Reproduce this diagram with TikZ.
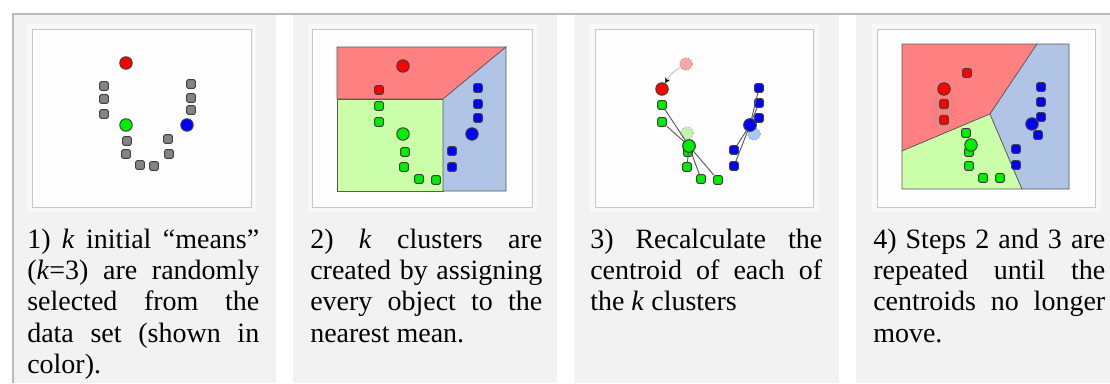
\documentclass[tikz,border=0pt]{standalone}
\usepackage{fontspec}
\setmainfont{Liberation Serif}
\usetikzlibrary{arrows.meta}
\definecolor{panelbg}{HTML}{F2F2F2}
\definecolor{framebg}{HTML}{F8F8F8}
\definecolor{boxbg}{HTML}{FDFDFD}
\definecolor{boxline}{HTML}{C8C8C8}
\definecolor{outline}{HTML}{BBBBBB}
\definecolor{regred}{HTML}{FF8080}
\definecolor{reggreen}{HTML}{CCFFAA}
\definecolor{regblue}{HTML}{B0C4E6}
\definecolor{ptred}{HTML}{FF0000}
\definecolor{ptgreen}{HTML}{00EE00}
\definecolor{ptblue}{HTML}{0000FF}
\definecolor{ptgray}{HTML}{848484}
\definecolor{fadered}{HTML}{F6A8A8}
\definecolor{fadegreen}{HTML}{C6F0B0}
\definecolor{fadeblue}{HTML}{A8C8F4}
\newcommand\jline[1]{\hbox to 174pt{#1}}
\newcommand\lline[1]{\hbox{#1}}
\tikzset{
  sq/.style={draw=black!75, fill=#1, rounded corners=1.2pt, minimum size=6.6pt, inner sep=0pt, line width=0.7pt},
  ct/.style={draw=black!75, fill=#1, circle, minimum size=9.4pt, inner sep=0pt, line width=0.7pt},
  fade/.style={draw=#1!70!black, fill=#1, circle, dotted, minimum size=9.4pt, inner sep=0pt, line width=0.6pt},
  region/.style={fill=#1, draw=black!65, line width=0.5pt},
  link/.style={draw=black!65, line width=0.7pt},
  caption/.style={anchor=base west, inner sep=0pt, font=\fontsize{21pt}{23.6pt}\selectfont},
  panel/.style={fill=panelbg},
  frame/.style={fill=framebg},
  imgbox/.style={fill=boxbg, draw=boxline, line width=0.75pt}
}
\begin{document}
\begin{tikzpicture}[x=0.75pt,y=-0.75pt]
\useasboundingbox (0,0) rectangle (1110,383);
\fill[white] (0,0) rectangle (1110,383);
% panels
\fill[panel] (14,15) rectangle (276,383);
\fill[panel] (293,15) rectangle (557,383);
\fill[panel] (574,15) rectangle (839,383);
\fill[panel] (856,15) rectangle (1110,383);
\draw[outline, line width=1.5pt] (13,383) -- (13,14) -- (1110,14);
% frames and boxes
\foreach \fx/\bx/\bw in {27/32/219, 308/312/220, 590/595/218, 872/877/218}{
  \fill[frame] (\fx,24) rectangle ++(229,188);
  \draw[imgbox] (\bx,29) rectangle ++(\bw,178);
}
% ---------- panel 1 ----------
\node[ct=ptred] (a1r) at (126,63) {};
\node[sq=ptgray] (a1) at (104,86) {};
\node[sq=ptgray] (a2) at (104,99) {};
\node[sq=ptgray] (a3) at (104,114) {};
\node[sq=ptgray] (a4) at (191,84) {};
\node[sq=ptgray] (a5) at (191,98) {};
\node[sq=ptgray] (a6) at (191,110) {};
\node[ct=ptgreen] (a1g) at (126,125) {};
\node[ct=ptblue] (a1b) at (187,125) {};
\node[sq=ptgray] (a7) at (127,141) {};
\node[sq=ptgray] (a8) at (126,154) {};
\node[sq=ptgray] (a9) at (140,165) {};
\node[sq=ptgray] (a10) at (154,166) {};
\node[sq=ptgray] (a11) at (168,139) {};
\node[sq=ptgray] (a12) at (169,154) {};
% ---------- panel 2 ----------
\path[region=regred] (337,47) -- (506,47) -- (443,99) -- (337,99) -- cycle;
\path[region=reggreen] (337,99) -- (443,99) -- (443,191) -- (337,191) -- cycle;
\path[region=regblue] (506,47) -- (506,191) -- (443,191) -- (443,99) -- cycle;
\node[ct=ptred] (b1r) at (403,66) {};
\node[sq=ptred] (b1) at (379,90) {};
\node[sq=ptgreen] (b2) at (379,106) {};
\node[sq=ptgreen] (b3) at (379,122) {};
\node[ct=ptgreen] (b1g) at (403,134) {};
\node[sq=ptgreen] (b4) at (405,152) {};
\node[sq=ptgreen] (b5) at (404,167) {};
\node[sq=ptgreen] (b6) at (419,179) {};
\node[sq=ptgreen] (b7) at (436,180) {};
\node[sq=ptblue] (b8) at (478,88) {};
\node[sq=ptblue] (b9) at (478,104) {};
\node[sq=ptblue] (b10) at (478,118) {};
\node[ct=ptblue] (b1b) at (472,134) {};
\node[sq=ptblue] (b11) at (452,151) {};
\node[sq=ptblue] (b12) at (452,167) {};
% ---------- panel 3 ----------
\node[fade=fadered] (c0r) at (686,64) {};
\node[fade=fadegreen] (c0g) at (687,133) {};
\node[fade=fadeblue] (c0b) at (754,134) {};
\node[sq=ptgreen] (c1) at (662,105) {};
\node[sq=ptgreen] (c2) at (662,122) {};
\node[sq=ptgreen] (c3) at (688,152) {};
\node[sq=ptgreen] (c4) at (687,167) {};
\node[sq=ptgreen] (c5) at (701,179) {};
\node[sq=ptgreen] (c6) at (718,180) {};
\node[sq=ptblue] (c7) at (759,88) {};
\node[sq=ptblue] (c8) at (759,103) {};
\node[sq=ptblue] (c9) at (759,118) {};
\node[sq=ptblue] (c10) at (734,150) {};
\node[sq=ptblue] (c11) at (734,166) {};
\node[ct=ptred] (c1r) at (662,89) {};
\node[ct=ptgreen] (c1g) at (689,146) {};
\node[ct=ptblue] (c1b) at (750,125) {};
\foreach \t in {c1,c2,c3,c4,c5,c6}{\draw[link] (c1g.center) -- (\t);}
\foreach \t in {c7,c8,c9,c10,c11}{\draw[link] (c1b.center) -- (\t);}
\node[ct=ptgreen] (c1gtop) at (c1g) {};
\node[ct=ptblue] (c1btop) at (c1b) {};
\draw[black!30, line width=0.5pt, -{Stealth[black,length=4pt,width=4pt]}] (c0r) to[bend right=15] (c1r);
% ---------- panel 4 ----------
\path[region=regred] (902,44) -- (1037,44) -- (990,114) -- (902,151) -- cycle;
\path[region=reggreen] (902,151) -- (990,114) -- (1022,189) -- (902,189) -- cycle;
\path[region=regblue] (1037,44) -- (1069,44) -- (1069,189) -- (1022,189) -- (990,114) -- cycle;
\node[sq=ptred] (d1) at (967,73) {};
\node[sq=ptred] (d2) at (944,104) {};
\node[sq=ptred] (d3) at (944,120) {};
\node[ct=ptred] (d1r) at (944,89) {};
\node[sq=ptgreen] (d4) at (966,133) {};
\node[sq=ptgreen] (d5) at (969,152) {};
\node[ct=ptgreen] (d1g) at (971,145) {};
\node[sq=ptgreen] (d6) at (969,166) {};
\node[sq=ptgreen] (d7) at (983,178) {};
\node[sq=ptgreen] (d8) at (1000,178) {};
\node[sq=ptblue] (d9) at (1041,87) {};
\node[sq=ptblue] (d10) at (1041,102) {};
\node[sq=ptblue] (d11) at (1041,117) {};
\node[sq=ptblue] (d12) at (1038,135) {};
\node[ct=ptblue] (d1b) at (1032,124) {};
\node[sq=ptblue] (d13) at (1016,149) {};
\node[sq=ptblue] (d14) at (1016,165) {};
% ---------- captions ----------
\node[caption] (cap1) at (27,248) {\vtop{\baselineskip=23.6pt
  \jline{1) \textit{k} initial “means”}
  \jline{(\textit{k}=3) are randomly}
  \jline{selected from the}
  \jline{data set (shown in}
  \lline{color).}}};
\node[caption] (cap2) at (310,248) {\vtop{\baselineskip=23.6pt
  \jline{2) \textit{k} clusters are}
  \jline{created by assigning}
  \jline{every object to the}
  \lline{nearest mean.}}};
\node[caption] (cap3) at (590,248) {\vtop{\baselineskip=23.6pt
  \jline{3) Recalculate the}
  \jline{centroid of each of}
  \lline{the \textit{k} clusters}}};
\node[caption] (cap4) at (873,248) {\vtop{\baselineskip=23.6pt
  \jline{4) Steps 2 and 3 are}
  \jline{repeated until the}
  \jline{centroids no longer}
  \lline{move.}}};
\end{tikzpicture}
\end{document}
